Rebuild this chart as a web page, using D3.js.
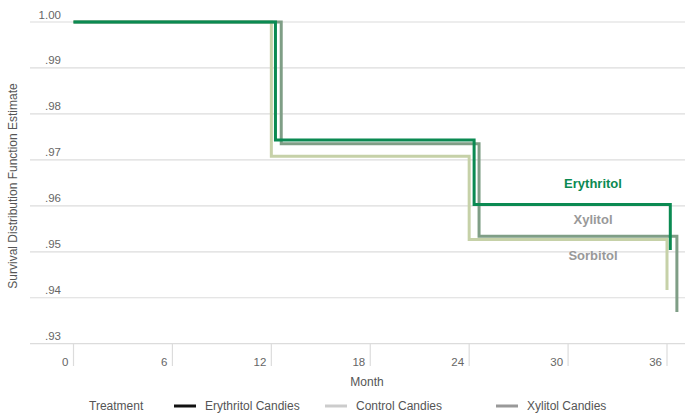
<!DOCTYPE html>
<head>
<meta charset="UTF-8">
<style>
body { margin: 0; background: #fff; }
svg { font-family: "Liberation Sans", Arial, sans-serif; }
.grid line { stroke: #dcdcdc; stroke-width: 1.2; }
.tick-label { fill: #666; font-size: 11.5px; }
.axis-title { fill: #555; font-size: 12px; }
.legend text { fill: #555; font-size: 12px; }
</style>
</head>
<body>
<svg width="685" height="415"></svg>
<script src="https://d3js.org/d3.v7.min.js"></script>
<script>
// chart values
var yTicks = [1.00, 0.99, 0.98, 0.97, 0.96, 0.95, 0.94, 0.93];
var xTicks = [0, 6, 12, 18, 24, 30, 36];

var controlMonths = [0, 12.0, 24.0, 36.0];
var controlSurv = [1.0, 0.9708, 0.9527, 0.9417];
var xylitolMonths = [0, 12.6, 24.6, 36.6];
var xylitolSurv = [1.0, 0.9735, 0.9534, 0.9369];
var erythritolMonths = [0, 12.25, 24.3, 36.2];
var erythritolSurv = [1.0, 0.9743, 0.9603, 0.9504];

var series = [
    { name: "Sorbitol", months: controlMonths, surv: controlSurv, color: "#c6d1a8" },
    { name: "Xylitol", months: xylitolMonths, surv: xylitolSurv, color: "#7f9e86" },
    { name: "Erythritol", months: erythritolMonths, surv: erythritolSurv, color: "#0b8a52" }
];

var legendNames = ["Erythritol Candies", "Control Candies", "Xylitol Candies"];
var legendColors = ["#111", "#cccccc", "#999999"];

var svg = d3.select("svg");

var x = d3.scaleLinear().domain([0, 36]).range([73.5, 667]);
var y = d3.scaleLinear().domain([0.93, 1.0]).range([343.7, 22]);

// horizontal gridlines + y labels
var grid = svg.append("g").attr("class", "grid");
grid.selectAll("line")
    .data(yTicks)
    .enter().append("line")
    .attr("x1", 30).attr("x2", 685)
    .attr("y1", function(d) { return y(d); })
    .attr("y2", function(d) { return y(d); });

var fmtY = function(d) {
    var s = d3.format(".2f")(d);
    return s.charAt(0) == "0" ? s.slice(1) : s;
};
svg.append("g").selectAll("text")
    .data(yTicks)
    .enter().append("text")
    .attr("class", "tick-label")
    .attr("x", 61)
    .attr("y", function(d) { return y(d) - 3.5; })
    .attr("text-anchor", "end")
    .text(fmtY);

// x ticks hang below the bottom gridline
var xg = svg.append("g");
xg.selectAll("line")
    .data(xTicks)
    .enter().append("line")
    .attr("x1", function(d) { return x(d); })
    .attr("x2", function(d) { return x(d); })
    .attr("y1", y(0.93)).attr("y2", 366)
    .attr("stroke", "#dcdcdc").attr("stroke-width", 1.2);
xg.selectAll("text")
    .data(xTicks)
    .enter().append("text")
    .attr("class", "tick-label")
    .attr("x", function(d) { return x(d) - 5; })
    .attr("y", 366)
    .attr("text-anchor", "end")
    .text(function(d) { return d; });

svg.append("text")
    .attr("class", "axis-title")
    .attr("x", 367).attr("y", 386)
    .attr("text-anchor", "middle")
    .text("Month");

svg.append("text")
    .attr("class", "axis-title")
    .attr("transform", "translate(17,186) rotate(-90)")
    .attr("text-anchor", "middle")
    .text("Survival Distribution Function Estimate");

// step lines
var line = d3.line()
    .x(function(d) { return x(d[0]); })
    .y(function(d) { return y(d[1]); })
    .curve(d3.curveStepAfter);

svg.append("g").selectAll("path")
    .data(series)
    .enter().append("path")
    .attr("fill", "none")
    .attr("stroke", function(d) { return d.color; })
    .attr("stroke-width", 3)
    .attr("d", function(d) {
        return line(d.months.map(function(m, i) { return [m, d.surv[i]]; }));
    });

// end labels
var labelY = { Erythritol: 188, Xylitol: 224, Sorbitol: 260 };
var labelColor = { Erythritol: "#0b8a52", Xylitol: "#999", Sorbitol: "#999" };
svg.append("g").selectAll("text")
    .data(["Erythritol", "Xylitol", "Sorbitol"])
    .enter().append("text")
    .attr("x", 593)
    .attr("y", function(d) { return labelY[d]; })
    .attr("text-anchor", "middle")
    .attr("font-size", "13px")
    .attr("font-weight", "bold")
    .attr("fill", function(d) { return labelColor[d]; })
    .text(function(d) { return d; });

// legend
var legend = svg.append("g").attr("class", "legend");
legend.append("text").attr("x", 89).attr("y", 410).text("Treatment");
var legX = [174, 325, 496];
legendNames.forEach(function(n, i) {
    legend.append("line")
        .attr("x1", legX[i]).attr("x2", legX[i] + 22)
        .attr("y1", 406).attr("y2", 406)
        .attr("stroke", legendColors[i]).attr("stroke-width", 3);
    legend.append("text")
        .attr("x", legX[i] + 31).attr("y", 410)
        .text(n);
});
</script>
</body>
